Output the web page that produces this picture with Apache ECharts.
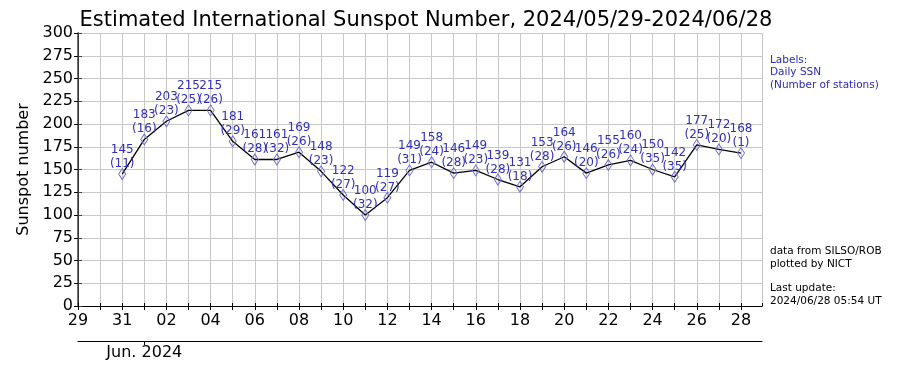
<!DOCTYPE html>
<html>
<head>
<meta charset="utf-8">
<script src="https://cdn.jsdelivr.net/npm/echarts@6/dist/echarts.min.js"></script>
<style>html,body{margin:0;padding:0;background:#fff;}#c{width:900px;height:373px;}</style>
</head>
<body>
<div id="c"></div>
<script>
const titleText = 'Estimated International Sunspot Number, 2024/05/29-2024/06/28';
const startDate = '2024-05-29';
const dates = ['2024-05-31','2024-06-01','2024-06-02','2024-06-03','2024-06-04','2024-06-05','2024-06-06','2024-06-07','2024-06-08','2024-06-09','2024-06-10','2024-06-11','2024-06-12','2024-06-13','2024-06-14','2024-06-15','2024-06-16','2024-06-17','2024-06-18','2024-06-19','2024-06-20','2024-06-21','2024-06-22','2024-06-23','2024-06-24','2024-06-25','2024-06-26','2024-06-27','2024-06-28'];
const ssn = [145,183,203,215,215,181,161,161,169,148,122,100,119,149,158,146,149,139,131,153,164,146,155,160,150,142,177,172,168];
const stations = [11,16,23,25,26,29,28,32,26,23,27,32,27,31,24,28,23,28,18,28,26,20,26,24,35,35,25,20,1];
const xTickLabels = ['29','30','31','01','02','03','04','05','06','07','08','09','10','11','12','13','14','15','16','17','18','19','20','21','22','23','24','25','26','27','28'];
const monthLabel = 'Jun. 2024';
const monthStartDate = '2024-06-01';
const infoLabels = 'Labels:\nDaily SSN\n(Number of stations)';
const infoSource = 'data from SILSO/ROB\nplotted by NICT';
const infoUpdate = 'Last update:\n2024/06/28 05:54 UT';

const DAY = 86400000;
const dayOf = d => (Date.parse(d) - Date.parse(startDate)) / DAY;
const seriesData = dates.map((d, i) => [dayOf(d), ssn[i]]);
const monthPos = dayOf(monthStartDate);
const FONT = 'DejaVu Sans';
const XMAX = 30.95;

const chart = echarts.init(document.getElementById('c'), null, {renderer: 'canvas'});
chart.setOption({
  backgroundColor: '#fff',
  animation: false,
  title: {
    text: titleText, left: 421, top: 5, textAlign: 'center',
    textStyle: {fontFamily: FONT, fontSize: 21, fontWeight: 'normal', color: '#000'}
  },
  grid: {left: 78, right: 138, top: 33, bottom: 67, containLabel: false},
  xAxis: [
    {
      type: 'value', min: 0, max: XMAX, interval: 1, position: 'bottom',
      axisLine: {show: true, lineStyle: {color: '#000', width: 1}},
      axisTick: {show: true, length: 4, lineStyle: {color: '#000'}},
      axisLabel: {
        show: true, margin: 7, color: '#000', fontFamily: FONT, fontSize: 16,
        showMaxLabel: false,
        formatter: v => (Number.isInteger(v) && v % 2 === 0) ? xTickLabels[v] : ''
      },
      splitLine: {show: true, lineStyle: {color: '#c8c8c8', width: 1}}
    },
    {
      type: 'value', min: 0, max: XMAX, position: 'bottom', offset: 35,
      axisLine: {show: true, onZero: false, lineStyle: {color: '#000', width: 1}},
      axisTick: {show: true, length: 4, customValues: [monthPos], lineStyle: {color: '#000'}},
      axisLabel: {
        show: true, margin: 4, customValues: [monthPos], color: '#000',
        fontFamily: FONT, fontSize: 16, formatter: () => monthLabel
      },
      splitLine: {show: false}
    },
    {
      type: 'value', min: 0, max: XMAX, interval: 1, position: 'top',
      axisLine: {show: true, lineStyle: {color: '#000', width: 1}},
      axisTick: {show: true, length: 3, lineStyle: {color: '#000'}},
      axisLabel: {show: false},
      splitLine: {show: false}
    }
  ],
  yAxis: [
    {
      type: 'value', min: 0, max: 300, interval: 25, position: 'left',
      name: 'Sunspot number', nameLocation: 'middle', nameGap: 45,
      nameTextStyle: {fontFamily: FONT, fontSize: 16, color: '#000'},
      axisLine: {show: true, lineStyle: {color: '#000', width: 1}},
      axisTick: {show: true, length: 4, lineStyle: {color: '#000'}},
      axisLabel: {margin: 5, color: '#000', fontFamily: FONT, fontSize: 16},
      splitLine: {show: true, lineStyle: {color: '#c8c8c8', width: 1}}
    },
    {
      type: 'value', min: 0, max: 300, interval: 25, position: 'right',
      axisLine: {show: true, lineStyle: {color: '#444', width: 1.5}},
      axisTick: {show: true, length: 4, lineStyle: {color: '#444'}},
      axisLabel: {show: false},
      splitLine: {show: false}
    }
  ],
  series: [{
    type: 'line', xAxisIndex: 0, yAxisIndex: 0, data: seriesData,
    lineStyle: {color: '#000', width: 1.3},
    symbol: 'diamond', symbolSize: [7, 11], showAllSymbol: true,
    itemStyle: {color: 'rgba(255,255,255,0)', borderColor: '#6f6fd6', borderWidth: 1},
    label: {
      show: true, position: 'top', distance: -3,
      formatter: p => ssn[p.dataIndex] + '\n(' + stations[p.dataIndex] + ')',
      color: '#3030b8', fontFamily: FONT, fontSize: 12, lineHeight: 14, align: 'center'
    },
    labelLayout: {hideOverlap: false},
    z: 5
  }],
  graphic: [
    {type: 'text', left: 770, top: 54, style: {text: infoLabels, fill: '#2a2ab8', font: '10.5px "DejaVu Sans"', lineHeight: 12.5}},
    {type: 'text', left: 770, top: 245, style: {text: infoSource, fill: '#000', font: '10.5px "DejaVu Sans"', lineHeight: 13}},
    {type: 'text', left: 770, top: 282, style: {text: infoUpdate, fill: '#000', font: '10.5px "DejaVu Sans"', lineHeight: 13}}
  ]
});
</script>
</body>
</html>
